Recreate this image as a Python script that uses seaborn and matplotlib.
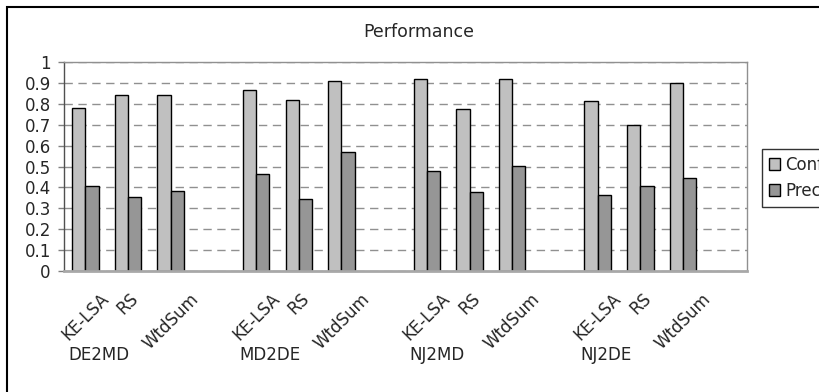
import matplotlib
matplotlib.use("Agg")
import matplotlib.pyplot as plt
from matplotlib.patches import Patch, Rectangle
import matplotlib.transforms as mtransforms
import seaborn as sns
import pandas as pd

# Data
groups = ["DE2MD", "MD2DE", "NJ2MD", "NJ2DE"]
methods = ["KE-LSA", "RS", "WtdSum"]
series = ["Confidence", "Precision"]
confidence = [0.78, 0.84, 0.84,
              0.866, 0.82, 0.911,
              0.917, 0.777, 0.917,
              0.815, 0.70, 0.90]
precision = [0.405, 0.352, 0.384,
             0.462, 0.344, 0.571,
             0.48, 0.378, 0.501,
             0.365, 0.405, 0.443]

# Long-form table; each group gets an empty fourth slot after its methods
rows = []
order = []
tick_text = []
k = 0
for g in groups:
    for m in methods:
        key = f"{g}|{m}"
        order.append(key)
        tick_text.append(m)
        rows.append({"slot": key, "metric": series[0], "value": confidence[k]})
        rows.append({"slot": key, "metric": series[1], "value": precision[k]})
        k += 1
    order.append(f"{g}|gap")
    tick_text.append("")
df = pd.DataFrame(rows)

sns.set_theme(style="white")
plt.rcParams["font.family"] = ["DejaVu Sans"]

fig = plt.figure(figsize=(8.2, 3.92), dpi=100)
ax = fig.add_axes([64 / 820, 1 - 271 / 392, (747 - 64) / 820, (271 - 62) / 392])

colors = ["#c0c0c0", "#969696"]
sns.barplot(data=df, x="slot", y="value", hue="metric", order=order,
            hue_order=series, palette=colors, width=0.62,
            edgecolor="black", linewidth=1.0, saturation=1,
            legend=False, ax=ax, zorder=3)

ax.set_xlim(-0.5, len(order) - 0.5)
ax.set_ylim(0, 1)
ax.set_yticks([i / 10 for i in range(11)])
ax.set_yticklabels(["0"] + [f"{i / 10:.1f}" for i in range(1, 10)] + ["1"], fontsize=12)
ax.yaxis.grid(True, linestyle=(0, (6, 4)), color="#909090", linewidth=1.0, zorder=0)
ax.xaxis.grid(False)
ax.set_xlabel("")
ax.set_ylabel("")

ax.set_xticks(range(len(order)))
ax.set_xticklabels(tick_text, rotation=45, ha="center", va="top", fontsize=12)
ax.tick_params(axis="x", length=0, pad=13.5)
ax.tick_params(axis="y", length=4.5, width=1, color="#808080", direction="out", pad=5, left=True)

for side in ["top", "right"]:
    ax.spines[side].set_color("#909090")
    ax.spines[side].set_linewidth(1.0)
ax.spines["left"].set_color("#505050")
ax.spines["left"].set_linewidth(1.0)
ax.spines["bottom"].set_color("#a8a8a8")
ax.spines["bottom"].set_linewidth(2.0)
for s in ax.spines.values():
    s.set_zorder(4)

# Group names under each block of bars
trans = mtransforms.blended_transform_factory(ax.transData, fig.transFigure)
for i, g in enumerate(groups):
    ax.text(i * 4 - 0.4, 1 - 355 / 392, g, transform=trans, fontsize=12,
            ha="left", va="center", clip_on=False)

fig.text(419 / 820, 1 - 32 / 392, "Performance", ha="center", va="center", fontsize=12.5)

handles = [Patch(facecolor=c, edgecolor="black", linewidth=1.0) for c in colors]
fig.legend(handles, series, loc="upper left", bbox_to_anchor=(762 / 820, 1 - 149 / 392),
           frameon=True, fancybox=False, edgecolor="black", fontsize=12,
           handlelength=0.7, handleheight=0.7, handletextpad=0.3,
           borderpad=0.4, labelspacing=0.5, borderaxespad=0)

# Chart-area border
fig.patches.append(Rectangle((7 / 820, -0.1), 2.0, 1 - 7 / 392 + 0.1,
                             transform=fig.transFigure, fill=False,
                             edgecolor="black", linewidth=1.5))

fig.savefig("out.png", dpi=100)
